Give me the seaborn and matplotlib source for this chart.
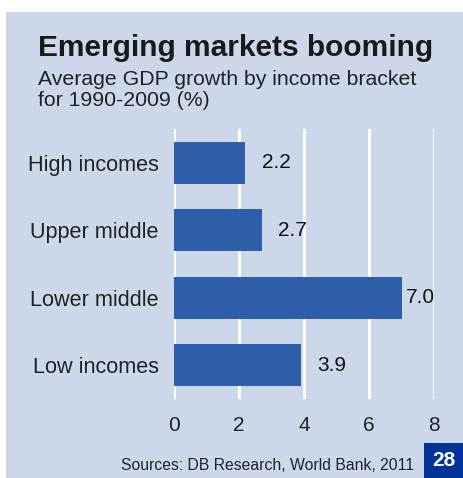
import seaborn as sns
import pandas as pd
import matplotlib.pyplot as plt
from matplotlib.patches import Rectangle

categories = ['High incomes', 'Upper middle', 'Lower middle', 'Low incomes']
growth = [2.2, 2.7, 7.0, 3.9]
xticks = [0, 2, 4, 6, 8]

bg = '#CCD8EA'
bar_color = '#2E5EAA'

sns.set_style('white')
plt.rcParams['font.family'] = ['Liberation Sans', 'DejaVu Sans']

fig = plt.figure(figsize=(4.64, 4.78), dpi=100)
fig.patch.set_facecolor('white')
fig.patches.append(Rectangle((6 / 464, 0), 458 / 464, 466 / 478,
                             transform=fig.transFigure, facecolor=bg,
                             edgecolor='none', zorder=-5))

ax = fig.add_axes([174 / 464, 79 / 478, 260 / 464, 270 / 478])
ax.set_facecolor('none')

df = pd.DataFrame({'category': categories, 'growth': growth})
sns.barplot(data=df, x='growth', y='category', color=bar_color,
            saturation=1, width=0.62, linewidth=0, ax=ax, zorder=2)

ax.set_xlim(0, 8)
ax.set_ylim(3.5, -0.5)
ax.set_xticks(xticks)
ax.xaxis.grid(True, color='white', linewidth=2.2, zorder=1)
ax.set_axisbelow(True)
for s in ax.spines.values():
    s.set_visible(False)
ax.tick_params(axis='both', length=0, labelsize=15, colors='#222222')
ax.tick_params(axis='y', pad=11, labelsize=15.6)
ax.tick_params(axis='x', pad=12)
ax.set_xlabel('')
ax.set_ylabel('')

for i, v in enumerate(growth):
    pad = 3 if v > 6.5 else 12
    ax.annotate(f'{v:.1f}', xy=(v, i), xytext=(pad, 0),
                textcoords='offset points', va='center', ha='left',
                fontsize=15, color='#111111')

fig.text(38 / 464, 1 - 48 / 478, 'Emerging markets booming',
         fontsize=21.5, fontweight='bold', color='#1a1a1a', va='center')
fig.text(38 / 464, 1 - 90 / 478, 'Average GDP growth by income bracket\nfor 1990-2009 (%)',
         fontsize=15.3, color='#222222', va='center', linespacing=1.12)
fig.text(414 / 464, 1 - 465 / 478, 'Sources: DB Research, World Bank, 2011',
         fontsize=11.3, color='#222222', ha='right', va='center')

fig.patches.append(Rectangle((424 / 464, 0), 40 / 464, 35 / 478,
                             transform=fig.transFigure, facecolor='#003399',
                             edgecolor='none', zorder=1))
fig.text(444 / 464, 1 - 461 / 478, '28', fontsize=15, fontweight='bold',
         color='white', ha='center', va='center')

fig.savefig('out.png', dpi=100, facecolor='white')
